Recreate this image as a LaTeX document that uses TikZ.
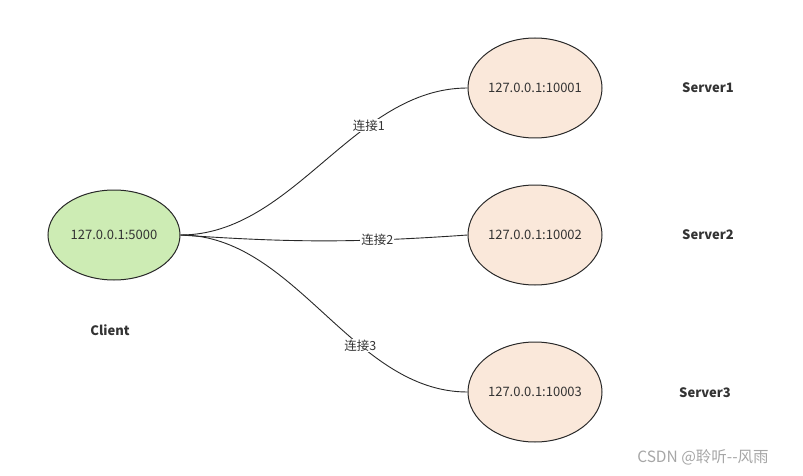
\documentclass[tikz,border=0pt]{standalone}
\usepackage{fontspec}
\setmainfont{Noto Sans CJK SC}
\usepackage{xcolor}
\usetikzlibrary{shapes.geometric, positioning}

\definecolor{clientfill}{RGB}{205,236,180}
\definecolor{serverfill}{RGB}{250,232,218}
\definecolor{linegray}{RGB}{40,40,40}
\definecolor{textgray}{RGB}{51,51,51}

\tikzset{
    host/.style={ellipse, draw=linegray, line width=1pt, inner sep=0pt,
        text=textgray, font=\fontsize{13}{15}\selectfont},
    client/.style={host, fill=clientfill, minimum width=132pt, minimum height=90pt},
    server/.style={host, fill=serverfill, minimum width=134pt, minimum height=100pt},
    tag/.style={text=textgray, font=\fontsize{13}{15}\selectfont\bfseries},
    conn/.style={draw=linegray, line width=0.9pt},
    connlabel/.style={fill=white, inner sep=1pt, text=textgray, font=\fontsize{12.5}{14}\selectfont}
}

\begin{document}
\begin{tikzpicture}[x=1pt, y=-1pt]
        \useasboundingbox (0,0) rectangle (803,476);

        % Add the hosts
        \node[client] (c)  at (114,235) {127.0.0.1:5000};
        \node[server] (s1) at (535,88)  {127.0.0.1:10001};
        \node[server] (s2) at (535,235) {127.0.0.1:10002};
        \node[server] (s3) at (535,392) {127.0.0.1:10003};

        % Add the names
        \node[tag] (nc)  at (110,330) {Client};
        \node[tag] (ns1) at (708,88)  {Server1};
        \node[tag] (ns2) at (708,235) {Server2};
        \node[tag] (ns3) at (705,393) {Server3};

        % Connect the client with the servers
        \draw[conn] (c.east) to[out=0, in=180, looseness=0.9]
            node[connlabel, pos=0.67] (l1) {连接1} (s1.west);
        \draw[conn] (c.east) to[out=-4, in=184]
            node[connlabel, pos=0.7] (l2) {连接2} (s2.west);
        \draw[conn] (c.east) to[out=0, in=180, looseness=0.9]
            node[connlabel, pos=0.64] (l3) {连接3} (s3.west);

        % Watermark
        \node[text=gray!70, font=\fontsize{15.5}{17}\selectfont] (wm) at (703,457) {CSDN @聆听-{}-风雨};
    \end{tikzpicture}
\end{document}
